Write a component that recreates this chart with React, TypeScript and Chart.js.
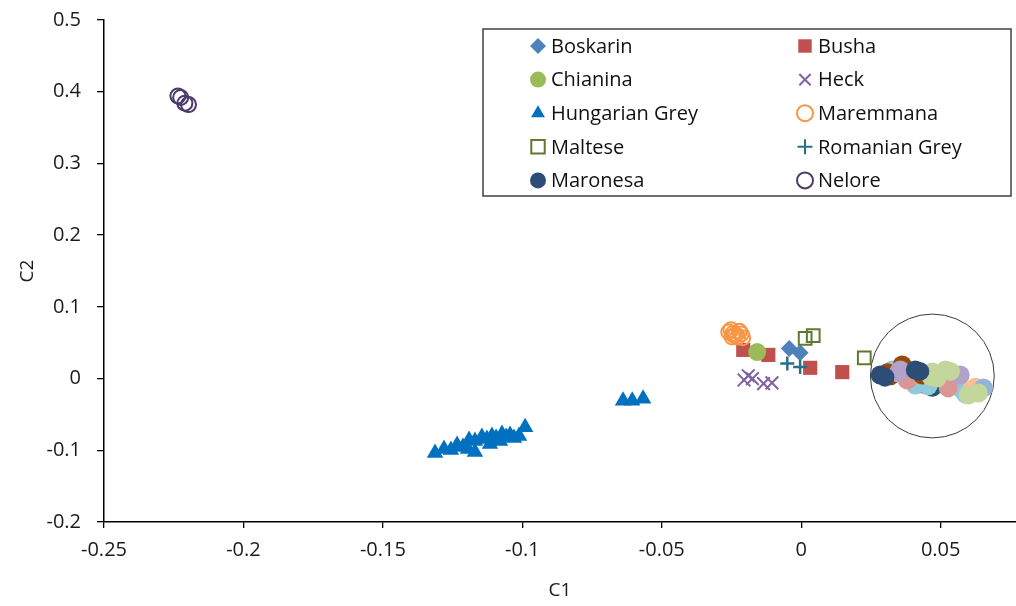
import React, { useEffect, useRef } from 'react';
import { Chart, registerables } from 'chart.js';
import { drawPoint } from 'chart.js/helpers';

Chart.register(...registerables);

const FONT = '"Open Sans", "DejaVu Sans", sans-serif';

const xTickValues = [-0.25, -0.2, -0.15, -0.1, -0.05, 0, 0.05];
const yTickValues = [-0.2, -0.1, 0, 0.1, 0.2, 0.3, 0.4, 0.5];
const xAxisTitle = 'C1';
const yAxisTitle = 'C2';

// Legend breeds
const boskarinX = [-0.0043, -0.0004];
const boskarinY = [0.042, 0.036];
const bushaX = [-0.0208, -0.0118, 0.0032, 0.0147];
const bushaY = [0.040, 0.033, 0.015, 0.009];
const chianinaX = [-0.0158];
const chianinaY = [0.037];
const heckX = [-0.0205, -0.019, -0.0175, -0.0135, -0.0105];
const heckY = [-0.002, 0.004, 0.0, -0.007, -0.006];
const hungarianX = [-0.1313, -0.1281, -0.1256, -0.1234, -0.1213, -0.1191, -0.117, -0.1145, -0.1127, -0.1109, -0.1094, -0.1073, -0.1058, -0.1044, -0.103, -0.1012, -0.099, -0.117, -0.1195, -0.1116, -0.108, -0.0639, -0.0606, -0.0567];
const hungarianY = [-0.1038, -0.0982, -0.0996, -0.0926, -0.0954, -0.0856, -0.087, -0.0814, -0.0842, -0.08, -0.0828, -0.0772, -0.0814, -0.0786, -0.0828, -0.08, -0.0678, -0.1024, -0.0982, -0.0912, -0.087, -0.031, -0.031, -0.028];
const maremmanaX = [-0.026, -0.0252, -0.0245, -0.024, -0.0228, -0.0215, -0.021, -0.0248, -0.0222, -0.0235];
const maremmanaY = [0.065, 0.068, 0.063, 0.060, 0.058, 0.062, 0.057, 0.058, 0.066, 0.061];
const malteseX = [0.0014, 0.0043, 0.0226];
const malteseY = [0.056, 0.060, 0.029];
const romanianX = [-0.005, -0.0004];
const romanianY = [0.021, 0.016];
const maronesaX = [0.0283, 0.0409, 0.030, 0.0425];
const maronesaY = [0.005, 0.012, 0.002, 0.010];
const neloreX = [-0.2235, -0.2225, -0.221, -0.2197];
const neloreY = [0.394, 0.392, 0.384, 0.382];

// Unlabelled groups inside the ringed cluster
const brownX = [0.0309, 0.0362, 0.0434, 0.032];
const brownY = [0.008, 0.019, 0.005, 0.004];
const lightBlueX = [0.0327, 0.0409, 0.0578, 0.059, 0.0455];
const lightBlueY = [0.012, -0.009, -0.016, -0.022, -0.010];
const lilacX = [0.0348, 0.057, 0.0355];
const lilacY = [0.008, 0.005, 0.012];
const pinkX = [0.038, 0.0527, 0.0395];
const pinkY = [-0.002, -0.013, 0.003];
const paleGreenX = [0.047, 0.0517, 0.0488, 0.0599, 0.0635, 0.0535, 0.0465];
const paleGreenY = [0.009, 0.012, 0.001, -0.023, -0.020, 0.010, 0.003];
const tealX = [0.047, 0.0517, 0.0542, 0.044];
const tealY = [-0.012, -0.009, -0.005, -0.008];
const peachX = [0.0624, 0.061];
const peachY = [-0.012, -0.016];
const steelX = [0.0653];
const steelY = [-0.013];

// Ring around the cluster (data units)
const ringCenterX = 0.047;
const ringCenterY = 0.0036;
const ringRadiusX = 0.0222;

type Series = {
  label: string;
  xs: number[];
  ys: number[];
  style: string;
  color: string;
  filled: boolean;
  radius: number;
  width: number;
  inLegend: boolean;
};

const series: Series[] = [
  { label: 'g1', xs: tealX, ys: tealY, style: 'circle', color: '#215968', filled: true, radius: 9.5, width: 0, inLegend: false },
  { label: 'g2', xs: lightBlueX, ys: lightBlueY, style: 'circle', color: '#8fc9da', filled: true, radius: 9.5, width: 0, inLegend: false },
  { label: 'g3', xs: pinkX, ys: pinkY, style: 'circle', color: '#d99694', filled: true, radius: 9.5, width: 0, inLegend: false },
  { label: 'g4', xs: peachX, ys: peachY, style: 'circle', color: '#fac090', filled: true, radius: 9.5, width: 0, inLegend: false },
  { label: 'g5', xs: steelX, ys: steelY, style: 'circle', color: '#95b3d7', filled: true, radius: 9.5, width: 0, inLegend: false },
  { label: 'g6', xs: brownX, ys: brownY, style: 'circle', color: '#984807', filled: true, radius: 9.5, width: 0, inLegend: false },
  { label: 'g7', xs: lilacX, ys: lilacY, style: 'circle', color: '#b3a2c7', filled: true, radius: 9.5, width: 0, inLegend: false },
  { label: 'g8', xs: paleGreenX, ys: paleGreenY, style: 'circle', color: '#c3d69b', filled: true, radius: 9.5, width: 0, inLegend: false },
  { label: 'Boskarin', xs: boskarinX, ys: boskarinY, style: 'rectRot', color: '#4f81bd', filled: true, radius: 8.5, width: 0, inLegend: true },
  { label: 'Busha', xs: bushaX, ys: bushaY, style: 'rect', color: '#c0504d', filled: true, radius: 10, width: 0, inLegend: true },
  { label: 'Chianina', xs: chianinaX, ys: chianinaY, style: 'circle', color: '#9bbb59', filled: true, radius: 9, width: 0, inLegend: true },
  { label: 'Heck', xs: heckX, ys: heckY, style: 'crossRot', color: '#8064a2', filled: false, radius: 9, width: 2, inLegend: true },
  { label: 'Hungarian Grey', xs: hungarianX, ys: hungarianY, style: 'triangle', color: '#0070c0', filled: true, radius: 9.5, width: 0, inLegend: true },
  { label: 'Maremmana', xs: maremmanaX, ys: maremmanaY, style: 'circle', color: '#f79646', filled: false, radius: 7.5, width: 2, inLegend: true },
  { label: 'Maltese', xs: malteseX, ys: malteseY, style: 'rect', color: '#5f7a2e', filled: false, radius: 9, width: 2, inLegend: true },
  { label: 'Romanian Grey', xs: romanianX, ys: romanianY, style: 'cross', color: '#2a7085', filled: false, radius: 7, width: 2.5, inLegend: true },
  { label: 'Maronesa', xs: maronesaX, ys: maronesaY, style: 'circle', color: '#2c4d75', filled: true, radius: 9.5, width: 0, inLegend: true },
  { label: 'Nelore', xs: neloreX, ys: neloreY, style: 'circle', color: '#4b3a6b', filled: false, radius: 7.5, width: 2, inLegend: true },
];

const fmt = (v: number) => {
  const n = Math.round(v * 100) / 100;
  return n === 0 ? '0' : String(n);
};

const ringPlugin = {
  id: 'ring',
  beforeDatasetsDraw(chart: any) {
    const { ctx, scales } = chart;
    const cx = scales.x.getPixelForValue(ringCenterX);
    const cy = scales.y.getPixelForValue(ringCenterY);
    const r = scales.x.getPixelForValue(ringCenterX + ringRadiusX) - cx;
    ctx.save();
    ctx.beginPath();
    ctx.arc(cx, cy, r, 0, Math.PI * 2);
    ctx.strokeStyle = '#3a3a3a';
    ctx.lineWidth = 1;
    ctx.stroke();
    ctx.restore();
  },
};

const boxLegendPlugin = {
  id: 'boxLegend',
  afterDraw(chart: any) {
    const ctx = chart.ctx;
    const left = 483;
    const top = 29;
    const w = 528;
    const h = 167;
    ctx.save();
    ctx.fillStyle = '#ffffff';
    ctx.fillRect(left, top, w, h);
    ctx.strokeStyle = '#404040';
    ctx.lineWidth = 1.5;
    ctx.strokeRect(left, top, w, h);
    const items = series.filter((s) => s.inLegend);
    ctx.font = `20px ${FONT}`;
    ctx.textBaseline = 'middle';
    ctx.textAlign = 'left';
    items.forEach((s, i) => {
      const col = i % 2;
      const row = Math.floor(i / 2);
      const mx = col === 0 ? 538 : 805;
      const my = 46 + row * 33.6;
      ctx.save();
      ctx.fillStyle = s.filled ? s.color : 'rgba(0,0,0,0)';
      ctx.strokeStyle = s.color;
      ctx.lineWidth = 2;
      const r = s.style === 'rect' ? 9.5 : s.style === 'cross' ? 7.5 : 8;
      drawPoint(ctx, { pointStyle: s.style as any, radius: r, rotation: 0, borderWidth: s.filled ? 0 : 2 }, mx, my);
      ctx.restore();
      ctx.fillStyle = '#111';
      ctx.fillText(s.label, mx + 13, my + 1);
    });
    ctx.restore();
  },
};

const zeroPad = (s: any) => { s.paddingLeft = 0; s.paddingRight = 0; s.paddingTop = 0; s.paddingBottom = 0; };

export default function App() {
  const ref = useRef<HTMLCanvasElement | null>(null);
  useEffect(() => {
    document.body.style.margin = '0';
    if (!ref.current) return;
    const n = series.length;
    const datasets = series.map((s, i) => ({
      label: s.label,
      data: s.xs.map((x, j) => ({ x, y: s.ys[j] })),
      pointStyle: s.style,
      pointRadius: s.radius,
      backgroundColor: s.filled ? s.color : 'rgba(0,0,0,0)',
      borderColor: s.color,
      borderWidth: s.width,
      showLine: false,
      order: n - i,
    }));
    const chart = new Chart(ref.current, {
      type: 'scatter',
      data: { datasets },
      options: {
        animation: false,
        responsive: false,
        maintainAspectRatio: false,
        events: [],
        layout: { autoPadding: false, padding: { top: 20, left: 0, right: 0, bottom: 0 } },
        plugins: { legend: { display: false }, tooltip: { enabled: false } },
        scales: {
          x: {
            type: 'linear',
            min: -0.25,
            max: 0.077,
            afterFit: (s: any) => { s.height = 84; zeroPad(s); },
            afterBuildTicks: (s: any) => { s.ticks = xTickValues.map((v) => ({ value: v })); },
            ticks: {
              stepSize: 0.05,
              padding: 10,
              color: '#1a1a1a',
              font: { family: FONT, size: 20 },
              maxRotation: 0,
              autoSkip: false,
              callback: (v: any) => fmt(Number(v)),
            },
            grid: { drawOnChartArea: false, drawTicks: true, tickLength: 6, color: '#000', lineWidth: 1.3 },
            border: { color: '#000', width: 1.5 },
            title: { display: true, text: xAxisTitle, color: '#1a1a1a', font: { family: FONT, size: 19 }, padding: { top: 0, bottom: 4 } },
          },
          y: {
            type: 'linear',
            min: -0.2,
            max: 0.5,
            afterFit: (s: any) => { s.width = 104; zeroPad(s); },
            afterBuildTicks: (s: any) => { s.ticks = yTickValues.map((v) => ({ value: v })); },
            ticks: {
              stepSize: 0.1,
              padding: 16,
              color: '#1a1a1a',
              font: { family: FONT, size: 20 },
              callback: (v: any) => fmt(Number(v)),
            },
            grid: { drawOnChartArea: false, drawTicks: true, tickLength: 7, color: '#000', lineWidth: 1.3 },
            border: { color: '#000', width: 1.5 },
            title: { display: true, text: yAxisTitle, color: '#1a1a1a', font: { family: FONT, size: 19 }, padding: { top: 16, bottom: 0 } },
          },
        },
      },
      plugins: [ringPlugin, boxLegendPlugin],
    } as any);
    return () => chart.destroy();
  }, []);
  return (
    <div style={{ width: 1016, height: 606, position: 'relative' }}>
      <canvas ref={ref} width={1016} height={606} style={{ display: 'block', width: 1016, height: 606 }} />
    </div>
  );
}
